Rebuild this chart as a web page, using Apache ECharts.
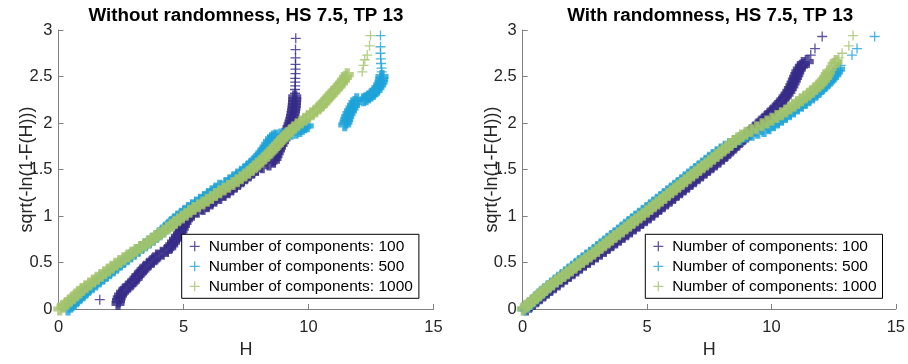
<!DOCTYPE html>
<html>
<head>
<meta charset="utf-8">
<script src="https://cdn.jsdelivr.net/npm/echarts@6/dist/echarts.min.js"></script>
<style>
  html, body { margin: 0; padding: 0; background: #ffffff; }
  #chart { width: 908px; height: 364px; }
</style>
</head>
<body>
<div id="chart"></div>
<script>
// Panel titles and legend entries
const panelTitles = ['Without randomness, HS 7.5, TP 13', 'With randomness, HS 7.5, TP 13'];
const seriesNames = ['Number of components: 100', 'Number of components: 500', 'Number of components: 1000'];
const hTicks = [0, 5, 10, 15];
const qTicks = [0, 0.5, 1, 1.5, 2, 2.5, 3];

// [H, sqrt(-ln(1-F(H)))] — without randomness
const noRand100 = [[1.65,0.10],[2.38,0.06],[2.40,0.09],[2.43,0.12],[2.48,0.15],[2.56,0.18],[2.66,0.21],[2.78,0.24],[2.90,0.27],[3.00,0.30],[3.10,0.33],[3.18,0.36],[3.28,0.39],[3.38,0.42],[3.48,0.45],[3.60,0.48],[3.74,0.51],[3.85,0.54],[3.96,0.57],[4.15,0.60],[4.32,0.63],[4.45,0.66],[4.53,0.69],[4.60,0.72],[4.68,0.75],[4.76,0.78],[4.84,0.81],[4.90,0.84],[4.95,0.87],[5.00,0.90],[5.06,0.93],[5.12,0.96],[5.20,0.99],[5.35,1.02],[5.55,1.05],[5.78,1.08],[5.95,1.11],[6.10,1.14],[6.25,1.17],[6.45,1.20],[6.62,1.23],[6.78,1.26],[6.92,1.29],[7.06,1.32],[7.20,1.35],[7.34,1.38],[7.48,1.41],[7.62,1.44],[7.76,1.47],[7.92,1.50],[8.15,1.53],[8.42,1.56],[8.60,1.59],[8.66,1.62],[8.70,1.65],[8.75,1.68],[8.80,1.71],[8.84,1.74],[8.90,1.77],[8.96,1.80],[9.02,1.83],[9.08,1.86],[9.13,1.89],[9.18,1.92],[9.22,1.95],[9.26,1.98],[9.30,2.01],[9.33,2.04],[9.36,2.07],[9.38,2.10],[9.40,2.13],[9.42,2.16],[9.43,2.19],[9.44,2.22],[9.45,2.25],[9.45,2.28],[9.46,2.32],[9.46,2.36],[9.47,2.40],[9.47,2.44],[9.47,2.48],[9.48,2.53],[9.48,2.58],[9.48,2.63],[9.48,2.70],[9.48,2.79],[9.49,2.91]];
const noRand500 = [[0.38,0.00],[0.48,0.03],[0.60,0.06],[0.72,0.09],[0.84,0.12],[0.96,0.15],[1.08,0.18],[1.20,0.21],[1.34,0.24],[1.48,0.27],[1.62,0.30],[1.76,0.33],[1.90,0.36],[2.04,0.39],[2.18,0.42],[2.32,0.45],[2.46,0.48],[2.60,0.51],[2.74,0.54],[2.88,0.57],[3.03,0.60],[3.18,0.63],[3.33,0.66],[3.48,0.69],[3.63,0.72],[3.78,0.75],[3.92,0.78],[4.05,0.81],[4.17,0.84],[4.29,0.87],[4.41,0.90],[4.53,0.93],[4.65,0.96],[4.78,0.99],[4.92,1.02],[5.06,1.05],[5.20,1.08],[5.36,1.11],[5.52,1.14],[5.68,1.17],[5.84,1.20],[6.00,1.23],[6.15,1.26],[6.30,1.29],[6.45,1.32],[6.70,1.35],[6.86,1.38],[7.02,1.41],[7.17,1.44],[7.32,1.47],[7.47,1.50],[7.60,1.53],[7.72,1.56],[7.84,1.59],[7.95,1.62],[8.05,1.65],[8.14,1.68],[8.22,1.71],[8.30,1.74],[8.37,1.77],[8.44,1.80],[8.52,1.83],[8.60,1.85],[8.70,1.86],[8.90,1.87],[9.10,1.88],[9.30,1.89],[9.50,1.90],[9.65,1.92],[9.75,1.94],[9.85,1.96],[9.95,1.97],[11.45,1.98],[11.50,2.01],[11.53,2.04],[11.57,2.07],[11.62,2.10],[11.68,2.13],[11.74,2.16],[11.80,2.19],[11.86,2.22],[11.93,2.25],[12.20,2.25],[12.30,2.26],[12.40,2.28],[12.50,2.30],[12.60,2.32],[12.70,2.35],[12.78,2.38],[12.85,2.41],[12.90,2.44],[12.93,2.47],[12.94,2.50],[12.93,2.55],[12.92,2.59],[12.90,2.64],[12.89,2.69],[12.88,2.75],[12.88,2.82],[12.88,2.94]];
const noRand1000 = [[0.05,0.00],[0.18,0.03],[0.32,0.06],[0.45,0.09],[0.58,0.12],[0.70,0.15],[0.82,0.18],[0.95,0.21],[1.10,0.24],[1.25,0.27],[1.40,0.30],[1.55,0.33],[1.70,0.36],[1.85,0.39],[2.00,0.42],[2.14,0.45],[2.30,0.48],[2.45,0.51],[2.62,0.54],[2.78,0.57],[2.93,0.60],[3.10,0.63],[3.28,0.66],[3.45,0.69],[3.60,0.72],[3.75,0.75],[3.90,0.78],[4.05,0.81],[4.22,0.84],[4.38,0.87],[4.52,0.90],[4.66,0.93],[4.80,0.96],[4.95,0.99],[5.10,1.02],[5.25,1.05],[5.42,1.08],[5.60,1.11],[5.78,1.14],[5.95,1.17],[6.12,1.20],[6.28,1.23],[6.45,1.26],[6.62,1.29],[6.80,1.32],[6.98,1.35],[7.15,1.38],[7.30,1.41],[7.45,1.44],[7.60,1.47],[7.74,1.50],[7.86,1.53],[7.98,1.56],[8.10,1.59],[8.22,1.62],[8.34,1.65],[8.45,1.68],[8.55,1.71],[8.66,1.74],[8.76,1.77],[8.86,1.80],[8.96,1.83],[9.07,1.86],[9.18,1.89],[9.30,1.92],[9.42,1.95],[9.55,1.98],[9.70,2.01],[9.85,2.04],[10.00,2.07],[10.14,2.10],[10.28,2.13],[10.40,2.16],[10.52,2.19],[10.62,2.22],[10.72,2.25],[10.82,2.28],[10.92,2.31],[11.02,2.34],[11.12,2.37],[11.22,2.40],[11.32,2.43],[11.40,2.46],[11.48,2.49],[11.55,2.52],[12.15,2.55],[12.20,2.62],[12.25,2.68],[12.35,2.73],[12.44,2.83],[12.48,2.94]];

// [H, sqrt(-ln(1-F(H)))] — with randomness
const rand100 = [[0.15,0.00],[0.28,0.03],[0.42,0.06],[0.56,0.09],[0.70,0.12],[0.84,0.15],[0.98,0.18],[1.12,0.21],[1.27,0.24],[1.42,0.27],[1.57,0.30],[1.72,0.33],[1.87,0.36],[2.02,0.39],[2.17,0.42],[2.32,0.45],[2.48,0.48],[2.64,0.51],[2.80,0.54],[2.96,0.57],[3.12,0.60],[3.28,0.63],[3.43,0.66],[3.58,0.69],[3.73,0.72],[3.88,0.75],[4.03,0.78],[4.18,0.81],[4.33,0.84],[4.48,0.87],[4.63,0.90],[4.78,0.93],[4.93,0.96],[5.08,0.99],[5.22,1.02],[5.36,1.05],[5.50,1.08],[5.64,1.11],[5.78,1.14],[5.92,1.17],[6.06,1.20],[6.20,1.23],[6.34,1.26],[6.48,1.29],[6.62,1.32],[6.76,1.35],[6.90,1.38],[7.04,1.41],[7.18,1.44],[7.32,1.47],[7.46,1.50],[7.60,1.53],[7.74,1.56],[7.88,1.59],[8.02,1.62],[8.14,1.65],[8.26,1.68],[8.38,1.71],[8.50,1.74],[8.62,1.77],[8.74,1.80],[8.86,1.83],[8.98,1.86],[9.10,1.89],[9.22,1.92],[9.34,1.95],[9.46,1.98],[9.58,2.01],[9.70,2.04],[9.82,2.07],[9.94,2.10],[10.05,2.13],[10.16,2.16],[10.27,2.19],[10.37,2.22],[10.46,2.25],[10.55,2.28],[10.63,2.31],[10.70,2.34],[10.76,2.37],[10.82,2.40],[10.87,2.43],[10.92,2.46],[10.97,2.49],[11.02,2.52],[11.06,2.55],[11.12,2.58],[11.20,2.61],[11.28,2.64],[11.44,2.66],[11.58,2.73],[11.75,2.80],[12.04,2.93]];
const rand500 = [[0.06,0.00],[0.18,0.03],[0.30,0.06],[0.42,0.09],[0.54,0.12],[0.66,0.15],[0.78,0.18],[0.90,0.21],[1.03,0.24],[1.17,0.27],[1.31,0.30],[1.45,0.33],[1.59,0.36],[1.73,0.39],[1.87,0.42],[2.01,0.45],[2.15,0.48],[2.29,0.51],[2.43,0.54],[2.58,0.57],[2.73,0.60],[2.88,0.63],[3.02,0.66],[3.16,0.69],[3.30,0.72],[3.44,0.75],[3.58,0.78],[3.72,0.81],[3.86,0.84],[4.00,0.87],[4.14,0.90],[4.28,0.93],[4.42,0.96],[4.56,0.99],[4.70,1.02],[4.85,1.05],[5.00,1.08],[5.14,1.11],[5.28,1.14],[5.42,1.17],[5.56,1.20],[5.70,1.23],[5.84,1.26],[5.98,1.29],[6.12,1.32],[6.26,1.35],[6.40,1.38],[6.54,1.41],[6.68,1.44],[6.82,1.47],[6.96,1.50],[7.10,1.53],[7.24,1.56],[7.38,1.59],[7.52,1.62],[7.66,1.65],[7.82,1.68],[7.98,1.71],[8.14,1.74],[8.32,1.77],[8.52,1.80],[8.74,1.83],[8.98,1.86],[9.22,1.88],[9.45,1.90],[9.70,1.92],[9.90,1.95],[10.08,1.98],[10.24,2.01],[10.40,2.04],[10.56,2.07],[10.72,2.10],[10.88,2.13],[11.04,2.16],[11.20,2.19],[11.35,2.22],[11.50,2.25],[11.64,2.28],[11.78,2.31],[11.90,2.34],[12.02,2.37],[12.14,2.40],[12.25,2.43],[12.36,2.46],[12.46,2.49],[12.55,2.52],[12.62,2.55],[12.70,2.58],[12.78,2.62],[13.24,2.73],[13.44,2.80],[14.15,2.93]];
const rand1000 = [[0.02,0.00],[0.14,0.03],[0.27,0.06],[0.40,0.09],[0.53,0.12],[0.66,0.15],[0.78,0.18],[0.91,0.21],[1.05,0.24],[1.20,0.27],[1.35,0.30],[1.50,0.33],[1.65,0.36],[1.80,0.39],[1.95,0.42],[2.10,0.45],[2.25,0.48],[2.40,0.51],[2.55,0.54],[2.70,0.57],[2.85,0.60],[3.00,0.63],[3.14,0.66],[3.28,0.69],[3.42,0.72],[3.56,0.75],[3.70,0.78],[3.85,0.81],[4.00,0.84],[4.14,0.87],[4.28,0.90],[4.42,0.93],[4.56,0.96],[4.70,0.99],[4.85,1.02],[5.00,1.05],[5.14,1.08],[5.28,1.11],[5.42,1.14],[5.56,1.17],[5.70,1.20],[5.84,1.23],[5.98,1.26],[6.12,1.29],[6.26,1.32],[6.40,1.35],[6.54,1.38],[6.68,1.41],[6.82,1.44],[6.96,1.47],[7.10,1.50],[7.24,1.53],[7.38,1.56],[7.52,1.59],[7.66,1.62],[7.80,1.65],[7.94,1.68],[8.08,1.71],[8.22,1.74],[8.36,1.77],[8.50,1.80],[8.65,1.83],[8.80,1.86],[8.98,1.89],[9.18,1.92],[9.40,1.95],[9.62,1.98],[9.82,2.01],[10.02,2.04],[10.22,2.07],[10.40,2.10],[10.58,2.13],[10.74,2.16],[10.90,2.19],[11.05,2.22],[11.20,2.25],[11.35,2.28],[11.50,2.31],[11.63,2.34],[11.76,2.37],[11.88,2.40],[12.00,2.43],[12.10,2.46],[12.18,2.49],[12.24,2.52],[12.30,2.55],[12.42,2.59],[12.52,2.63],[12.60,2.66],[12.71,2.70],[12.84,2.75],[13.11,2.83],[13.28,2.94]];

const panelData = [[noRand100, noRand500, noRand1000], [rand100, rand500, rand1000]];
const seriesColors = ['#352a87', '#1ba3d8', '#a3c36a'];

// '+' markers drawn as filled crosses: a thin one for isolated samples and a
// heavier one where samples pile up into a continuous band
const PLUS = 'path://M0,4.35H10V5.65H0Z M4.35,0H5.65V10H4.35Z';
const PLUS_DENSE = 'path://M0,3H10V7H0Z M3,0H7V10H3Z';
const FONT = '"Liberation Sans", Arial, Helvetica, sans-serif';
const AXIS_GRAY = '#808080';
const TEXT_GRAY = '#262626';

const grids = [
  { left: 58.5, top: 30, width: 375, height: 280 },
  { left: 522.7, top: 30, width: 375, height: 280 }
];
const pxPerH = grids[0].width / (hTicks[hTicks.length - 1] - hTicks[0]);
const pxPerQ = grids[0].height / (qTicks[qTicks.length - 1] - qTicks[0]);

// A sample belongs to a band when a neighbouring sample sits on the next
// probability level and close by on screen.
function denseFlags(pts) {
  return pts.map((p, i) => [pts[i - 1], pts[i + 1]].some(n => {
    if (!n) return false;
    const dq = Math.abs(n[1] - p[1]);
    const dx = (n[0] - p[0]) * pxPerH;
    const dy = (n[1] - p[1]) * pxPerQ;
    return dq <= 0.031 && Math.hypot(dx, dy) <= 9;
  }));
}

const option = {
  animation: false,
  backgroundColor: '#ffffff',
  textStyle: { fontFamily: FONT },
  title: panelTitles.map((t, i) => ({
    text: t,
    left: grids[i].left + grids[i].width / 2,
    top: 6,
    padding: 0,
    textAlign: 'center',
    textStyle: { fontFamily: FONT, fontSize: 18.8, fontWeight: 'bold', color: '#000000' }
  })),
  grid: grids,
  xAxis: grids.map((g, i) => ({
    type: 'value',
    gridIndex: i,
    min: hTicks[0],
    max: hTicks[hTicks.length - 1],
    interval: hTicks[1] - hTicks[0],
    name: 'H',
    nameLocation: 'middle',
    nameGap: 32,
    nameMoveOverlap: false,
    nameTextStyle: { fontFamily: FONT, fontSize: 18, color: TEXT_GRAY },
    axisLine: { show: true, onZero: false, lineStyle: { color: AXIS_GRAY, width: 1 } },
    axisTick: { show: true, inside: true, length: 5, lineStyle: { color: AXIS_GRAY } },
    axisLabel: { margin: 10, fontFamily: FONT, fontSize: 16.5, color: TEXT_GRAY },
    splitLine: { show: false }
  })),
  yAxis: grids.map((g, i) => ({
    type: 'value',
    gridIndex: i,
    min: qTicks[0],
    max: qTicks[qTicks.length - 1],
    interval: qTicks[1] - qTicks[0],
    name: 'sqrt(-ln(1-F(H)))',
    nameLocation: 'middle',
    nameGap: 22,
    nameMoveOverlap: false,
    nameTextStyle: { fontFamily: FONT, fontSize: 18, color: TEXT_GRAY },
    axisLine: { show: true, onZero: false, lineStyle: { color: AXIS_GRAY, width: 1 } },
    axisTick: { show: true, inside: true, length: 5, lineStyle: { color: AXIS_GRAY } },
    axisLabel: { margin: 6, fontFamily: FONT, fontSize: 16.5, color: TEXT_GRAY },
    splitLine: { show: false }
  })),
  legend: [
    { left: 181.7, top: 234.3 },
    { left: 645.3, top: 234.3 }
  ].map(pos => ({
    left: pos.left,
    top: pos.top,
    orient: 'vertical',
    selectedMode: false,
    data: seriesNames.map(n => ({ name: n, icon: PLUS })),
    itemWidth: 18,
    itemHeight: 10,
    itemGap: 0,
    padding: [2, 6, 2, 8],
    borderColor: '#000000',
    borderWidth: 1,
    borderRadius: 0,
    backgroundColor: '#ffffff',
    textStyle: { fontFamily: FONT, fontSize: 15.5, color: '#000000', lineHeight: 20 }
  })),
  series: []
};

panelData.forEach((sets, p) => {
  sets.forEach((pts, k) => {
    const dense = denseFlags(pts);
    option.series.push({
      type: 'scatter',
      name: seriesNames[k],
      xAxisIndex: p,
      yAxisIndex: p,
      data: pts,
      symbol: (val, params) => (dense[params.dataIndex] ? PLUS_DENSE : PLUS),
      symbolSize: (val, params) => (dense[params.dataIndex] ? 13 : 10),
      itemStyle: { color: seriesColors[k] },
      emphasis: { disabled: true },
      silent: true
    });
  });
});

const chart = echarts.init(document.getElementById('chart'), null, { renderer: 'canvas' });
chart.setOption(option);
</script>
</body>
</html>
